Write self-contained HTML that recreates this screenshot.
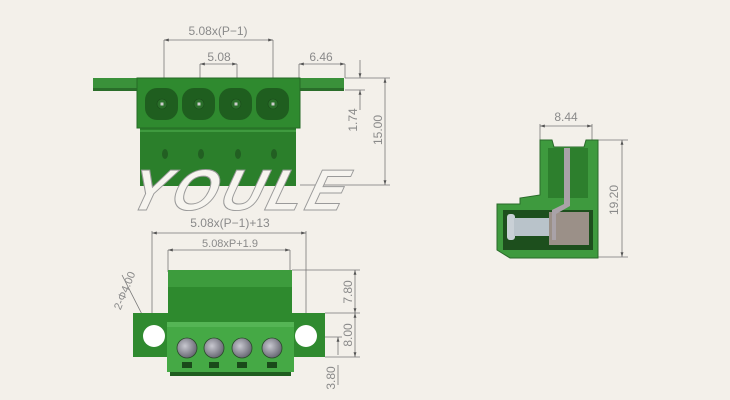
<!DOCTYPE html>
<html><head><meta charset="utf-8"><style>
html,body{margin:0;padding:0;background:#f3f0ea;}
svg{display:block}
text{font-family:"Liberation Sans",sans-serif;fill:#8a8a8a;font-size:12px}
</style></head><body>
<svg width="730" height="400" viewBox="0 0 730 400" xmlns="http://www.w3.org/2000/svg">
<defs>
<marker id="a" viewBox="0 0 10 10" refX="10" refY="5" markerWidth="6" markerHeight="6" orient="auto-start-reverse"><path d="M0,2 L10,5 L0,8z" fill="#555"/></marker>
<linearGradient id="gt" x1="0" y1="0" x2="0" y2="1"><stop offset="0" stop-color="#2f8a2f"/><stop offset="1" stop-color="#2a7a2a"/></linearGradient>
<radialGradient id="sc" cx="0.4" cy="0.4" r="0.7"><stop offset="0" stop-color="#c8c8d0"/><stop offset="1" stop-color="#5a5a66"/></radialGradient>
</defs>
<rect width="730" height="400" fill="#f3f0ea"/>
<g stroke="#777" stroke-width="0.8" fill="none">
<!-- top view dims -->
<line x1="164" y1="40" x2="164" y2="80"/><line x1="273" y1="40" x2="273" y2="80"/>
<line x1="164" y1="40" x2="273" y2="40" marker-start="url(#a)" marker-end="url(#a)"/>
<line x1="200" y1="64" x2="200" y2="80"/><line x1="237" y1="64" x2="237" y2="80"/>
<line x1="200" y1="64" x2="237" y2="64" marker-start="url(#a)" marker-end="url(#a)"/>
<line x1="299" y1="64" x2="299" y2="78"/><line x1="345" y1="64" x2="345" y2="78"/>
<line x1="299" y1="64" x2="345" y2="64" marker-start="url(#a)" marker-end="url(#a)"/>
<line x1="345" y1="78" x2="390" y2="78"/><line x1="345" y1="90" x2="365" y2="90"/>
<line x1="360" y1="60" x2="360" y2="78" marker-end="url(#a)"/>
<line x1="360" y1="110" x2="360" y2="90" marker-end="url(#a)"/>
<line x1="385" y1="78" x2="385" y2="185" marker-start="url(#a)" marker-end="url(#a)"/>
<line x1="300" y1="185" x2="390" y2="185"/>
<!-- bottom dims -->
<line x1="152" y1="231" x2="152" y2="340"/><line x1="306" y1="231" x2="306" y2="340"/>
<line x1="152" y1="233" x2="306" y2="233" marker-start="url(#a)" marker-end="url(#a)"/>
<line x1="168" y1="250" x2="168" y2="272"/><line x1="290" y1="250" x2="290" y2="272"/>
<line x1="168" y1="250" x2="290" y2="250" marker-start="url(#a)" marker-end="url(#a)"/>
<line x1="292" y1="270" x2="360" y2="270"/><line x1="325" y1="313" x2="360" y2="313"/><line x1="325" y1="357" x2="360" y2="357"/>
<line x1="355" y1="270" x2="355" y2="313" marker-start="url(#a)" marker-end="url(#a)"/>
<line x1="355" y1="313" x2="355" y2="357" marker-start="url(#a)" marker-end="url(#a)"/>
<line x1="306" y1="337" x2="342" y2="337"/>
<line x1="338" y1="337" x2="338" y2="355" marker-start="url(#a)"/>
<line x1="338" y1="365" x2="338" y2="385"/>
<line x1="122" y1="275" x2="150" y2="330"/>
<!-- side dims -->
<line x1="540" y1="124" x2="540" y2="142"/><line x1="592" y1="124" x2="592" y2="140"/>
<line x1="540" y1="126" x2="592" y2="126" marker-start="url(#a)" marker-end="url(#a)"/>
<line x1="592" y1="140" x2="628" y2="140"/><line x1="598" y1="257" x2="628" y2="257"/>
<line x1="622" y1="140" x2="622" y2="257" marker-start="url(#a)" marker-end="url(#a)"/>
</g>
<!-- top view body -->
<rect x="93" y="78" width="251" height="12" fill="#3a913a"/>
<rect x="93" y="88" width="251" height="3" fill="#2a6d2a"/>
<rect x="140" y="128" width="156" height="58" fill="#2b7f2b"/>
<rect x="137" y="78" width="163" height="50" fill="#2f8a2f"/>
<rect x="137" y="78" width="163" height="50" fill="none" stroke="#256a25"/>
<g fill="#1f5e1f">
<rect x="145" y="88" width="33" height="32" rx="12"/><rect x="182" y="88" width="33" height="32" rx="12"/>
<rect x="219" y="88" width="33" height="32" rx="12"/><rect x="256" y="88" width="33" height="32" rx="12"/>
</g>
<g fill="#2a6f2a" stroke="#1a4a1a" stroke-width="0.6">
<circle cx="162" cy="104" r="5"/><circle cx="199" cy="104" r="5"/><circle cx="236" cy="104" r="5"/><circle cx="273" cy="104" r="5"/>
</g>
<g fill="#ccc"><rect x="160.5" y="102.5" width="3" height="3"/><rect x="197.5" y="102.5" width="3" height="3"/><rect x="234.5" y="102.5" width="3" height="3"/><rect x="271.5" y="102.5" width="3" height="3"/></g>
<g fill="#225f22"><ellipse cx="165" cy="154" rx="3" ry="5"/><ellipse cx="201" cy="154" rx="3" ry="5"/><ellipse cx="238" cy="154" rx="3" ry="5"/><ellipse cx="274" cy="154" rx="3" ry="5"/></g>
<line x1="140" y1="131" x2="296" y2="131" stroke="#3f9a3f" stroke-width="2"/>
<!-- watermark -->
<text x="240" y="210" text-anchor="middle" style="font-size:58px;font-weight:bold;font-style:italic;fill:#f6f4ef;stroke:#9a9a9a;stroke-width:1;letter-spacing:4px" transform="skewX(-15) translate(52,0)">YOULE</text>
<!-- bottom view body -->
<rect x="133" y="313" width="192" height="44" fill="#2f8a2f"/>
<circle cx="154" cy="336" r="11" fill="#fff"/><circle cx="306" cy="336" r="11" fill="#fff"/>
<rect x="168" y="270" width="124" height="53" fill="#2e8a2e"/>
<rect x="168" y="270" width="124" height="17" fill="#3d9c3d"/>
<rect x="167" y="322" width="127" height="50" fill="#45a945"/>
<rect x="167" y="322" width="127" height="5" fill="#55b555"/>
<rect x="170" y="372" width="121" height="4" fill="#1f5e1f"/>
<g fill="url(#sc)" stroke="#2a4a2a" stroke-width="0.8">
<circle cx="187" cy="348" r="10"/><circle cx="214" cy="348" r="10"/><circle cx="242" cy="348" r="10"/><circle cx="272" cy="348" r="10"/>
</g>
<g fill="#1a4a1a"><rect x="182" y="362" width="10" height="6"/><rect x="209" y="362" width="10" height="6"/><rect x="237" y="362" width="10" height="6"/><rect x="267" y="362" width="10" height="6"/></g>
<!-- side view -->
<path d="M540,140 L552,140 L554,147 L584,147 L586,140 L598,140 L598,258 L510,258 L497,250 L497,204 L520,204 L520,198 L540,195 Z" fill="#3e9a3e" stroke="#2a6a2a"/>
<rect x="548" y="148" width="40" height="50" fill="#2d7f2d"/>
<rect x="503" y="210" width="90" height="40" fill="#1d4f1d"/>
<rect x="507" y="214" width="8" height="26" rx="3" fill="#c9d0d6"/>
<rect x="514" y="218" width="36" height="18" fill="#b9c3ca"/>
<rect x="549" y="212" width="40" height="33" fill="#9b9088"/>
<path d="M564,148 L570,148 L570,206 L556,214 L556,240 L552,240 L552,210 L564,204 Z" fill="#a9a2a8"/>
<!-- labels -->
<text x="218" y="35" text-anchor="middle">5.08x(P−1)</text>
<text x="219" y="61" text-anchor="middle">5.08</text>
<text x="321" y="61" text-anchor="middle">6.46</text>
<text transform="translate(357,120) rotate(-90)" text-anchor="middle">1.74</text>
<text transform="translate(382,130) rotate(-90)" text-anchor="middle">15.00</text>
<text x="230" y="227" text-anchor="middle">5.08x(P−1)+13</text>
<text x="230" y="247" text-anchor="middle" style="font-size:11px">5.08xP+1.9</text>
<text transform="translate(352,292) rotate(-90)" text-anchor="middle">7.80</text>
<text transform="translate(352,335) rotate(-90)" text-anchor="middle">8.00</text>
<text transform="translate(335,378) rotate(-90)" text-anchor="middle">3.80</text>
<text transform="translate(128,292) rotate(-68)" text-anchor="middle" style="font-size:11px">2-Φ4.00</text>
<text x="566" y="121" text-anchor="middle">8.44</text>
<text transform="translate(618,200) rotate(-90)" text-anchor="middle">19.20</text>
</svg>
</body></html>
